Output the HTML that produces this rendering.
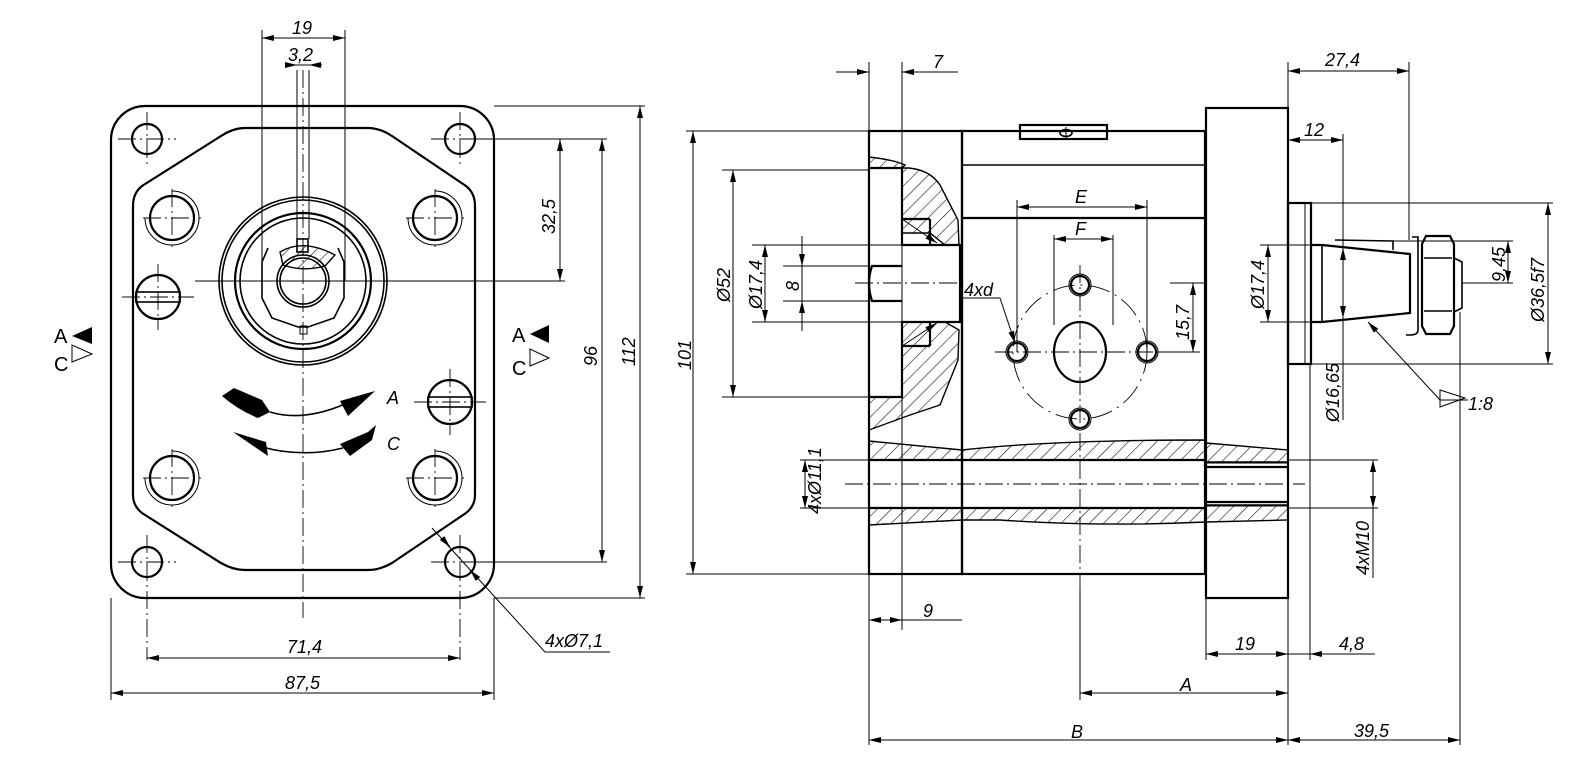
<!DOCTYPE html>
<html><head><meta charset="utf-8">
<style>
html,body{margin:0;padding:0;background:#fff;}
svg{display:block;}
text{font-family:"Liberation Sans",sans-serif;font-style:italic;font-size:18px;fill:#000;}
.t{stroke:#000;stroke-width:2.2;fill:none;}
.m{stroke:#000;stroke-width:1.6;fill:none;}
.n{stroke:#000;stroke-width:1;fill:none;}
.c{stroke:#000;stroke-width:0.9;fill:none;stroke-dasharray:18 4 2 4;}
.h{stroke:#000;stroke-width:1.4;fill:url(#hatch);}
</style></head><body>
<svg width="1571" height="778" viewBox="0 0 1571 778" xmlns="http://www.w3.org/2000/svg">
<defs>
<marker id="a" viewBox="0 0 12 6" refX="12" refY="3" markerWidth="12" markerHeight="6" orient="auto-start-reverse" markerUnits="userSpaceOnUse"><path d="M0,0 L12,3 L0,6 z" fill="#000"/></marker>
<pattern id="hatch" width="10" height="10" patternUnits="userSpaceOnUse" patternTransform="rotate(45)"><line x1="0" y1="0" x2="0" y2="10" stroke="#000" stroke-width="1.1"/></pattern>
</defs>

<!-- ================= FRONT VIEW ================= -->
<rect x="111" y="106" width="383" height="492" rx="34" class="t"/>
<path d="M245,128 L368,128 Q380,128 392,136 L466,186 Q475,193 475,206 L475,495 Q475,506 466,513 L392,563 Q380,570 368,570 L245,570 Q233,570 221,563 L142,513 Q133,506 133,495 L133,206 Q133,193 142,186 L221,136 Q233,128 245,128 Z" class="t"/>
<g class="t">
<circle cx="147" cy="139" r="15"/><circle cx="460" cy="139" r="15"/>
<circle cx="147" cy="562" r="15"/><circle cx="460" cy="562" r="15"/>
<circle cx="172" cy="218" r="22"/><circle cx="435" cy="218" r="22"/>
<circle cx="172" cy="478" r="22"/><circle cx="435" cy="478" r="22"/>
</g>
<g class="n">
<path d="M172,191 A27,27 0 1,1 145,218"/><path d="M435,191 A27,27 0 1,1 408,218"/>
<path d="M172,451 A27,27 0 1,1 145,478"/><path d="M435,451 A27,27 0 1,1 408,478"/>
</g>
<g class="c">
<line x1="118" y1="139" x2="176" y2="139"/><line x1="147" y1="112" x2="147" y2="168"/>
<line x1="431" y1="139" x2="489" y2="139"/><line x1="460" y1="112" x2="460" y2="168"/>
<line x1="118" y1="562" x2="176" y2="562"/><line x1="147" y1="535" x2="147" y2="660"/>
<line x1="431" y1="562" x2="489" y2="562"/><line x1="460" y1="535" x2="460" y2="660"/>
<line x1="143" y1="218" x2="201" y2="218"/><line x1="172" y1="189" x2="172" y2="247"/>
<line x1="406" y1="218" x2="464" y2="218"/><line x1="435" y1="189" x2="435" y2="247"/>
<line x1="143" y1="478" x2="201" y2="478"/><line x1="172" y1="449" x2="172" y2="507"/>
<line x1="406" y1="478" x2="464" y2="478"/><line x1="435" y1="449" x2="435" y2="507"/>
<line x1="303" y1="70" x2="303" y2="618"/>
</g>
<circle cx="303" cy="281" r="84" class="m"/>
<circle cx="303" cy="281" r="81" class="m"/>
<circle cx="303" cy="281" r="68" class="t" stroke-width="3"/>
<circle cx="303" cy="281" r="63" class="m"/>
<path d="M268,248 L262,262 L262,298 L272,318 L298,327 L308,327 L334,318 L344,298 L344,262 L338,248" class="m"/>
<path d="M280,252 Q303,238 335,255 L325,266 Q303,272 283,265 Z" class="h"/>
<circle cx="303" cy="281" r="26" class="m"/>
<circle cx="303" cy="281" r="23" class="m"/>
<rect x="297" y="239" width="11" height="13" class="m"/>
<rect x="300" y="326" width="7" height="8" class="n"/>
<line x1="297" y1="70" x2="297" y2="239" class="n"/>
<line x1="309" y1="70" x2="309" y2="239" class="n"/>
<line x1="262" y1="30" x2="262" y2="281" class="n"/>
<line x1="345" y1="30" x2="345" y2="281" class="n"/>
<line x1="195" y1="281" x2="565" y2="281" class="n"/>
<line x1="248" y1="281" x2="358" y2="281" class="c"/>
<circle cx="158" cy="297" r="22" class="t"/>
<rect x="136" y="292" width="44" height="10" class="m"/>
<line x1="122" y1="297" x2="194" y2="297" class="c"/><line x1="158" y1="264" x2="158" y2="330" class="c"/>
<circle cx="450" cy="402" r="22" class="t"/>
<rect x="428" y="397" width="44" height="10" class="m"/>
<line x1="414" y1="402" x2="486" y2="402" class="c"/><line x1="450" y1="369" x2="450" y2="435" class="c"/>
<!-- rotation arrows -->
<path d="M270,412 Q303,422 345,404" class="m"/>
<path d="M340,401 L375,391 L348,416 Z" fill="#000"/>
<path d="M222,396 L234,388 L262,400 L270,412 L258,418 Q238,410 222,396 Z" fill="#000"/>
<path d="M262,447 Q303,458 343,448" class="m"/>
<path d="M266,442 L233,432 L268,456 Z" fill="#000"/>
<path d="M340,444 L368,432 L376,425 L372,440 L350,456 Z" fill="#000"/>
<text x="387" y="404" font-size="21">A</text>
<text x="387" y="450" font-size="21">C</text>
<text x="54" y="343" style="font-style:normal;font-size:20px">A</text>
<path d="M72,336 L92,327 L92,344 Z" fill="#000"/>
<text x="54" y="371" style="font-style:normal;font-size:20px">C</text>
<path d="M72,362 L92,354 L72,345 Z" class="n"/>
<text x="512" y="342" style="font-style:normal;font-size:20px">A</text>
<path d="M530,334 L549,325 L549,343 Z" fill="#000"/>
<text x="512" y="375" style="font-style:normal;font-size:20px">C</text>
<path d="M530,366 L549,358 L530,349 Z" class="n"/>
<g class="n">
<line x1="262" y1="38" x2="345" y2="38" marker-start="url(#a)" marker-end="url(#a)"/>
<line x1="285" y1="65" x2="297" y2="65" marker-end="url(#a)"/><line x1="322" y1="65" x2="309" y2="65" marker-end="url(#a)"/>
<line x1="297" y1="65" x2="309" y2="65"/>
<line x1="475" y1="139" x2="565" y2="139"/>
<line x1="560" y1="139" x2="560" y2="281" marker-start="url(#a)" marker-end="url(#a)"/>
<line x1="494" y1="139" x2="607" y2="139"/><line x1="475" y1="562" x2="607" y2="562"/>
<line x1="602" y1="139" x2="602" y2="562" marker-start="url(#a)" marker-end="url(#a)"/>
<line x1="494" y1="106" x2="645" y2="106"/><line x1="494" y1="598" x2="645" y2="598"/>
<line x1="640" y1="106" x2="640" y2="598" marker-start="url(#a)" marker-end="url(#a)"/>
<line x1="147" y1="658" x2="460" y2="658" marker-start="url(#a)" marker-end="url(#a)"/>
<line x1="111" y1="598" x2="111" y2="700"/><line x1="494" y1="598" x2="494" y2="700"/>
<line x1="111" y1="693" x2="494" y2="693" marker-start="url(#a)" marker-end="url(#a)"/>
<line x1="432" y1="528" x2="545" y2="652"/>
<line x1="442" y1="538" x2="450" y2="547" marker-end="url(#a)"/>
<line x1="478" y1="579" x2="470" y2="570" marker-end="url(#a)"/>
<line x1="545" y1="652" x2="610" y2="652"/>
</g>
<text x="292" y="34">19</text>
<text x="288" y="61">3,2</text>
<text x="555" y="234" transform="rotate(-90 555 234)">32,5</text>
<text x="597" y="366" transform="rotate(-90 597 366)">96</text>
<text x="635" y="366" transform="rotate(-90 635 366)">112</text>
<text x="287" y="653">71,4</text>
<text x="285" y="689">87,5</text>
<text x="545" y="647">4xØ7,1</text>

<!-- ================= SIDE VIEW ================= -->
<rect x="869" y="131" width="93" height="443" class="t"/>
<rect x="962" y="131" width="243" height="443" class="t"/>
<rect x="1206" y="108" width="82" height="490" class="t"/>
<line x1="962" y1="165" x2="1205" y2="165" class="m"/>
<line x1="962" y1="218" x2="1205" y2="218" class="t"/>
<rect x="1020" y="125" width="87" height="14" class="t" fill="#fff"/>
<ellipse cx="1066" cy="133" rx="6" ry="3.5" class="m"/><line x1="1066" y1="127" x2="1066" y2="139" class="n"/>
<path d="M869,157 Q895,160 905,165 L902,168 L869,168 Z" class="h"/>
<path d="M902,168 L909,168 Q930,170 940,185 L958,220 L959,245 L945,245 L930,233 L902,233 Z" class="h"/>
<path d="M902,322 L945,322 L959,330 L958,360 L940,405 L910,415 L869,430 L869,397 L902,397 Z" class="h"/>
<g class="t">
<path d="M869,168 L902,168 L902,245 L960,245 L960,322 L902,322 L902,397 L869,397"/>
<path d="M902,266 L872,266 Q869,275 869,283 Q869,292 872,301 L902,301"/>
<line x1="930" y1="219" x2="930" y2="245"/><line x1="930" y1="322" x2="930" y2="346"/>
<line x1="902" y1="219" x2="930" y2="219"/><line x1="902" y1="346" x2="930" y2="346"/>
</g>
<line x1="902" y1="219" x2="937" y2="243" class="n" marker-end="url(#a)"/>
<line x1="902" y1="346" x2="937" y2="323" class="n" marker-end="url(#a)"/>
<path d="M869,441 L962,450 Q1050,440 1205,440 L1205,460 L869,460 Z" class="h"/>
<path d="M869,508 L1205,508 L1205,522 Q1100,527 1000,520 L962,520 L869,525 Z" class="h"/>
<path d="M1206,443 L1288,450 L1288,462 L1206,462 Z" class="h"/>
<path d="M1206,505 L1288,505 L1288,520 L1206,522 Z" class="h"/>
<line x1="869" y1="460" x2="1205" y2="460" class="t"/>
<line x1="869" y1="508" x2="1205" y2="508" class="t"/>
<line x1="1206" y1="467" x2="1288" y2="467" class="t"/>
<line x1="1206" y1="502" x2="1288" y2="502" class="t"/>
<line x1="1206" y1="463" x2="1288" y2="463" class="n"/>
<line x1="1206" y1="506" x2="1288" y2="506" class="n"/>
<line x1="845" y1="484" x2="1305" y2="484" class="c"/>
<g class="c">
<circle cx="1080" cy="352" r="67" stroke-dasharray="22 6 2 6"/>
<line x1="1080" y1="265" x2="1080" y2="590"/>
<line x1="995" y1="352" x2="1168" y2="352"/>
<line x1="855" y1="283" x2="960" y2="283"/>
</g>
<ellipse cx="1080" cy="352" rx="26" ry="30" class="t"/>
<g class="t">
<circle cx="1080" cy="285" r="9"/><circle cx="1080" cy="419" r="9"/>
<circle cx="1017" cy="352" r="9"/><circle cx="1147" cy="352" r="9"/>
</g>
<g class="n">
<circle cx="1080" cy="285" r="11"/><circle cx="1080" cy="419" r="11"/>
<circle cx="1017" cy="352" r="11"/><circle cx="1147" cy="352" r="11"/>
<line x1="1017" y1="200" x2="1017" y2="352"/><line x1="1147" y1="200" x2="1147" y2="352"/>
<line x1="1017" y1="207" x2="1147" y2="207" marker-start="url(#a)" marker-end="url(#a)"/>
<line x1="1054" y1="235" x2="1054" y2="325"/><line x1="1113" y1="235" x2="1113" y2="325"/>
<line x1="1054" y1="239" x2="1113" y2="239" marker-start="url(#a)" marker-end="url(#a)"/>
<line x1="962" y1="298" x2="1000" y2="298"/>
<line x1="1000" y1="298" x2="1015" y2="343" marker-end="url(#a)"/>
<line x1="1158" y1="352" x2="1200" y2="352"/>
<line x1="1193" y1="283" x2="1193" y2="352" marker-start="url(#a)" marker-end="url(#a)"/>
<line x1="1170" y1="283" x2="1205" y2="283"/>
</g>
<text x="1075" y="203">E</text>
<text x="1075" y="235">F</text>
<text x="964" y="296">4xd</text>
<text x="1189" y="340" transform="rotate(-90 1189 340)">15,7</text>
<rect x="1288" y="203" width="23" height="161" class="t"/>
<line x1="1305" y1="203" x2="1305" y2="364" class="n"/>
<path d="M1311,245 L1322,245 L1410,254 L1410,313 L1322,322 L1311,322" class="t"/>
<line x1="1322" y1="245" x2="1322" y2="322" class="m"/>
<path d="M1335,240 L1393,241 L1393,250" class="m"/>
<path d="M1412,237 L1418,237 L1418,330 Q1418,335 1410,335 L1406,335" class="m"/>
<path d="M1426,236 L1450,236 L1454,244 L1454,326 L1450,334 L1426,334 L1422,326 L1422,244 Z" class="t"/>
<path d="M1424,258 L1452,258 M1424,311 L1452,311" class="m"/>
<path d="M1454,258 L1462,262 L1462,308 L1454,312" class="m"/>
<g class="n">
<line x1="869" y1="62" x2="869" y2="745"/>
<line x1="902" y1="62" x2="902" y2="630"/>
<line x1="836" y1="72" x2="869" y2="72" marker-end="url(#a)"/>
<line x1="935" y1="72" x2="902" y2="72" marker-end="url(#a)"/>
<line x1="902" y1="72" x2="958" y2="72"/>
<line x1="1288" y1="62" x2="1288" y2="745"/>
<line x1="1409" y1="62" x2="1409" y2="240"/>
<line x1="1288" y1="71" x2="1409" y2="71" marker-start="url(#a)" marker-end="url(#a)"/>
<line x1="1343" y1="134" x2="1343" y2="330"/>
<line x1="1288" y1="140" x2="1343" y2="140" marker-start="url(#a)" marker-end="url(#a)"/>
<line x1="686" y1="131" x2="869" y2="131"/><line x1="686" y1="574" x2="869" y2="574"/>
<line x1="693" y1="131" x2="693" y2="574" marker-start="url(#a)" marker-end="url(#a)"/>
<line x1="722" y1="170" x2="869" y2="170"/><line x1="722" y1="397" x2="869" y2="397"/>
<line x1="733" y1="170" x2="733" y2="397" marker-start="url(#a)" marker-end="url(#a)"/>
<line x1="752" y1="245" x2="902" y2="245"/><line x1="752" y1="322" x2="902" y2="322"/>
<line x1="765" y1="245" x2="765" y2="322" marker-start="url(#a)" marker-end="url(#a)"/>
<line x1="783" y1="266" x2="869" y2="266"/><line x1="783" y1="301" x2="869" y2="301"/>
<line x1="802" y1="236" x2="802" y2="266" marker-end="url(#a)"/>
<line x1="802" y1="331" x2="802" y2="301" marker-end="url(#a)"/>
<line x1="802" y1="266" x2="802" y2="301"/>
<line x1="800" y1="460" x2="869" y2="460"/><line x1="800" y1="508" x2="869" y2="508"/>
<line x1="805" y1="460" x2="805" y2="508" marker-start="url(#a)" marker-end="url(#a)"/>
<line x1="1260" y1="245" x2="1311" y2="245"/><line x1="1260" y1="322" x2="1311" y2="322"/>
<line x1="1268" y1="245" x2="1268" y2="322" marker-start="url(#a)" marker-end="url(#a)"/>
<line x1="1343" y1="248" x2="1343" y2="318" marker-start="url(#a)" marker-end="url(#a)"/>
<line x1="1343" y1="330" x2="1343" y2="420"/>
<line x1="1393" y1="241" x2="1513" y2="241"/><line x1="1462" y1="283" x2="1513" y2="283"/>
<line x1="1508" y1="241" x2="1508" y2="283" marker-start="url(#a)" marker-end="url(#a)"/>
<line x1="1311" y1="203" x2="1553" y2="203"/><line x1="1311" y1="364" x2="1553" y2="364"/>
<line x1="1548" y1="203" x2="1548" y2="364" marker-start="url(#a)" marker-end="url(#a)"/>
<line x1="1460" y1="312" x2="1460" y2="745"/>
<line x1="1288" y1="460" x2="1378" y2="460"/><line x1="1288" y1="508" x2="1378" y2="508"/>
<line x1="1373" y1="460" x2="1373" y2="508" marker-start="url(#a)" marker-end="url(#a)"/>
<line x1="1373" y1="508" x2="1373" y2="578"/>
<line x1="1440" y1="400" x2="1368" y2="322" marker-end="url(#a)"/>
<line x1="1440" y1="400" x2="1468" y2="400"/>
<line x1="1310" y1="364" x2="1310" y2="660"/>
<line x1="1206" y1="598" x2="1206" y2="660"/>
<line x1="1080" y1="590" x2="1080" y2="700"/>
<line x1="869" y1="620" x2="902" y2="620" marker-start="url(#a)" marker-end="url(#a)"/>
<line x1="902" y1="620" x2="962" y2="620"/>
<line x1="1206" y1="654" x2="1288" y2="654" marker-start="url(#a)" marker-end="url(#a)"/>
<line x1="1288" y1="654" x2="1310" y2="654"/>
<line x1="1345" y1="654" x2="1310" y2="654" marker-end="url(#a)"/>
<line x1="1310" y1="654" x2="1375" y2="654"/>
<line x1="1080" y1="693" x2="1288" y2="693" marker-start="url(#a)" marker-end="url(#a)"/>
<line x1="869" y1="740" x2="1288" y2="740" marker-start="url(#a)" marker-end="url(#a)"/>
<line x1="1288" y1="740" x2="1460" y2="740" marker-start="url(#a)" marker-end="url(#a)"/>
</g>
<path d="M1440,390 L1465,398 L1440,407 Z" class="n"/>
<text x="1468" y="410" font-size="28">1:8</text>
<text x="933" y="68">7</text>
<text x="1325" y="66">27,4</text>
<text x="1304" y="136">12</text>
<text x="691" y="370" transform="rotate(-90 691 370)">101</text>
<text x="730" y="302" transform="rotate(-90 730 302)">Ø52</text>
<text x="762" y="309" transform="rotate(-90 762 309)">Ø17,4</text>
<text x="799" y="291" transform="rotate(-90 799 291)">8</text>
<text x="821" y="514" transform="rotate(-90 821 514)">4xØ11,1</text>
<text x="1264" y="309" transform="rotate(-90 1264 309)">Ø17,4</text>
<text x="1339" y="422" transform="rotate(-90 1339 422)">Ø16,65</text>
<text x="1505" y="282" transform="rotate(-90 1505 282)">9,45</text>
<text x="1544" y="322" transform="rotate(-90 1544 322)">Ø36,5f7</text>
<text x="1369" y="575" transform="rotate(-90 1369 575)">4xM10</text>
<text x="923" y="617">9</text>
<text x="1235" y="650">19</text>
<text x="1339" y="650">4,8</text>
<text x="1180" y="691">A</text>
<text x="1071" y="738">B</text>
<text x="1354" y="737">39,5</text>
</svg>
</body></html>
